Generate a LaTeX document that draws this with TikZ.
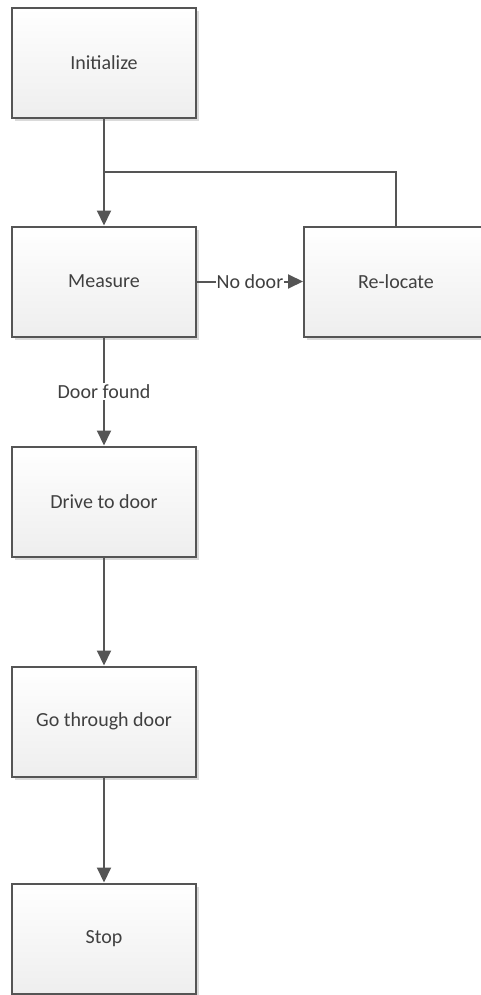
\documentclass[tikz,border=0pt]{standalone}
\usepackage{fontspec}
\setmainfont{Carlito}
\usetikzlibrary{arrows.meta,shadows}
\definecolor{edge}{HTML}{555555}
\definecolor{txt}{HTML}{404040}
\definecolor{fillbot}{HTML}{EEEEEE}
\tikzset{
  box/.style={draw=edge, line width=2pt, top color=white, bottom color=fillbot,
    minimum width=184pt, minimum height=110pt, inner sep=0pt,
    font=\fontsize{20pt}{24pt}\selectfont, text=txt,
    drop shadow={fill=black!18, opacity=0.8, shadow xshift=3pt, shadow yshift=-3pt}},
  conn/.style={draw=edge, line width=2pt, -{Triangle[length=15pt,width=14pt]}},
  plain/.style={draw=edge, line width=2pt},
  lbl/.style={fill=white, inner sep=1pt, font=\fontsize{20pt}{24pt}\selectfont, text=txt}
}
\begin{document}
\begin{tikzpicture}[x=1pt,y=-1pt]
\useasboundingbox (0,0) rectangle (480,995);
\node[box] (init) at (104,63) {Initialize};
\node[box] (meas) at (104,281.5) {Measure};
\node[box] (reloc) at (396,281.5) {Re-locate};
\node[box] (drive) at (104,501.5) {Drive to door};
\node[box] (go) at (104,721.5) {Go through door};
\node[box] (stop) at (104,938.5) {Stop};
\coordinate (j1) at (104,172);
\coordinate (j2) at (reloc.north |- j1);
\draw[conn] (init.south) -- (meas.north);
\draw[plain] (reloc.north) -- (j2) -- (j1);
\draw[conn] (meas.east) -- node[lbl] (nodoor) {No door} (reloc.west);
\draw[conn] (meas.south) -- node[lbl, pos=0.5] (dfound) {Door found} (drive.north);
\draw[conn] (drive.south) -- (go.north);
\draw[conn] (go.south) -- (stop.north);
\end{tikzpicture}
\end{document}
